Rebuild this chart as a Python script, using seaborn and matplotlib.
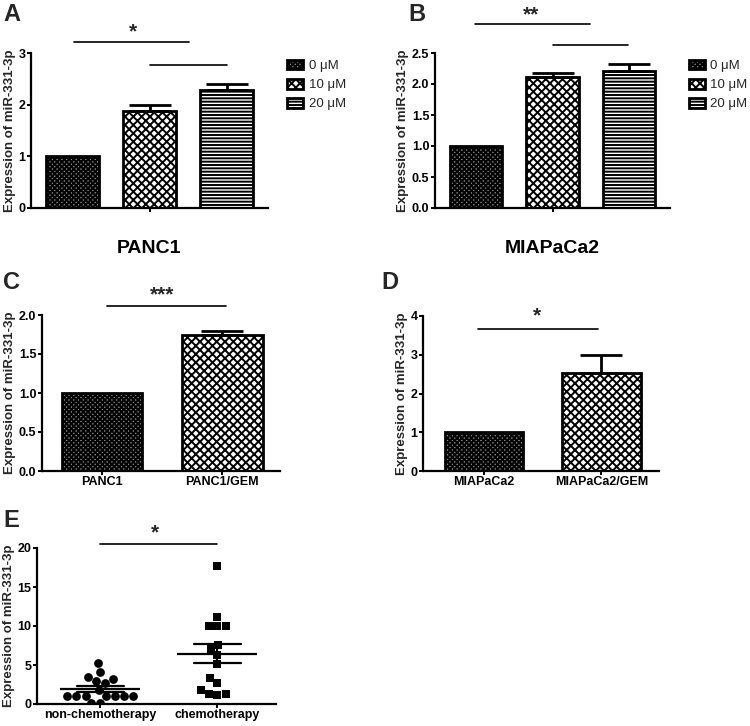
import numpy as np
import pandas as pd
import matplotlib
matplotlib.use("Agg")
import matplotlib.pyplot as plt
import seaborn as sns
from matplotlib.patches import Patch

# ---------------- data ----------------
doses = ["0 μM", "10 μM", "20 μM"]
panc1_dose_mean = [1.0, 1.88, 2.28]
panc1_dose_sem = [0.0, 0.11, 0.12]
mia_dose_mean = [1.0, 2.11, 2.21]
mia_dose_sem = [0.0, 0.06, 0.11]

panc_lines = ["PANC1", "PANC1/GEM"]
panc_lines_mean = [1.0, 1.74]
panc_lines_sem = [0.0, 0.05]

mia_lines = ["MIAPaCa2", "MIAPaCa2/GEM"]
mia_lines_mean = [1.0, 2.52]
mia_lines_sem = [0.0, 0.48]

groups = ["non-chemotherapy", "chemotherapy"]
nonchemo_values = [5.2, 4.1, 3.5, 3.2, 3.0, 2.7, 1.8, 1.0, 1.0, 1.0, 1.0,
                   1.0, 1.0, 1.0, 0.1, 0.1]
chemo_values = [17.7, 11.1, 10.0, 10.0, 10.0, 7.6, 7.0, 6.3, 5.1, 3.3, 2.7,
                1.3, 1.2, 1.3, 1.8]

ylabel = "Expression of miR-331-3p"

# ---------------- style ----------------
sns.set_theme(style="ticks")
plt.rcParams["font.family"] = ["Liberation Sans", "DejaVu Sans"]
plt.rcParams["font.weight"] = "bold"
plt.rcParams["axes.labelweight"] = "bold"
plt.rcParams["hatch.linewidth"] = 1.4

W, H = 750, 726
fig = plt.figure(figsize=(W / 100, H / 100), dpi=100)


def add_ax(l, r, t, b):
    return fig.add_axes([l / W, 1 - b / H, (r - l) / W, (b - t) / H])


hatches = ["xxxxxxx", "xxxx", "-----"]
faces = ["#8c8c8c", "white", "white"]


def style_axes(ax, ylim, yticks, yfmt):
    sns.despine(ax=ax)
    for s in ["left", "bottom"]:
        ax.spines[s].set_linewidth(1.6)
        ax.spines[s].set_color("black")
    ax.set_ylim(*ylim)
    ax.set_yticks(yticks)
    ax.set_yticklabels([yfmt.format(v) for v in yticks])
    ax.tick_params(axis="y", length=3, width=1.4, pad=1, labelsize=9,
                   colors="black")
    ax.set_ylabel(ylabel, fontsize=9.5, fontweight="bold", labelpad=2)
    ax.set_xlabel("")


def style_bars(ax, styles):
    for p, (h, fc) in zip(ax.patches, styles):
        p.set_hatch(h)
        p.set_facecolor(fc)
        p.set_edgecolor("black")
        p.set_linewidth(2)


def add_err(ax, sems):
    for p, s in zip(ax.patches, sems):
        if s > 0:
            xc = p.get_x() + p.get_width() / 2
            top = p.get_height()
            ax.errorbar([xc], [top], yerr=[[0], [s]], fmt="none",
                        ecolor="black", elinewidth=2, capsize=15,
                        capthick=2, zorder=1)


def sig_line(ax, x0, x1, y):
    ax.plot([x0, x1], [y, y], color="black", lw=1.2, clip_on=False)


def star(ax, x, y, s):
    ax.text(x, y, s, ha="center", va="center", fontsize=15,
            fontweight="bold", clip_on=False)


def dose_panel(ax, cell, means, sems, ylim, yticks, yfmt):
    df = pd.DataFrame({"cell": [cell] * 3, "dose": doses, "value": means})
    sns.barplot(data=df, x="cell", y="value", hue="dose", hue_order=doses,
                palette=["white"] * 3, gap=0.31, width=0.8, legend=False,
                errorbar=None, ax=ax)
    style_bars(ax, list(zip(hatches, faces)))
    add_err(ax, sems)
    style_axes(ax, ylim, yticks, yfmt)
    ax.set_xlim(-0.41, 0.41)
    ax.tick_params(axis="x", length=3, width=1.4, pad=20, labelsize=14,
                   colors="black")
    handles = [Patch(facecolor=fc, edgecolor="black", hatch=h, linewidth=2,
                     label=d) for d, h, fc in zip(doses, hatches, faces)]
    ax.legend(handles=handles, loc="upper left",
              bbox_to_anchor=(1.06, 0.99), frameon=False,
              handlelength=1.15, handleheight=0.75, handletextpad=0.45,
              labelspacing=0.5, borderaxespad=0,
              prop={"size": 9.5, "weight": "normal"})


def pair_panel(ax, cells, means, sems, ylim, yticks, yfmt, xlim):
    df = pd.DataFrame({"cell": cells, "value": means})
    sns.barplot(data=df, x="cell", y="value", hue="cell",
                palette=["white"] * 2, width=0.67, legend=False,
                errorbar=None, ax=ax)
    style_bars(ax, [(hatches[0], faces[0]), (hatches[1], faces[1])])
    add_err(ax, sems)
    style_axes(ax, ylim, yticks, yfmt)
    ax.set_xlim(*xlim)
    ax.tick_params(axis="x", length=3, width=1.4, pad=0.5, labelsize=9,
                   colors="black")


# Panel A
axA = add_ax(31, 268, 53, 208)
dose_panel(axA, "PANC1", panc1_dose_mean, panc1_dose_sem, (0, 3),
           [0, 1, 2, 3], "{:.0f}")
sig_line(axA, -0.262, 0.135, 3.21)
sig_line(axA, 0.0, 0.269, 2.77)
star(axA, -0.056, 3.40, "*")

# Panel B
axB = add_ax(435, 670, 53, 208)
dose_panel(axB, "MIAPaCa2", mia_dose_mean, mia_dose_sem, (0, 2.5),
           [0, 0.5, 1.0, 1.5, 2.0, 2.5], "{:.1f}")
sig_line(axB, -0.27, 0.13, 2.97)
sig_line(axB, 0.0, 0.264, 2.63)
star(axB, -0.075, 3.12, "**")

# Panel C
axC = add_ax(42, 280, 315, 471)
pair_panel(axC, panc_lines, panc_lines_mean, panc_lines_sem, (0, 2),
           [0, 0.5, 1.0, 1.5, 2.0], "{:.1f}", (-0.5, 1.48))
sig_line(axC, 0.04, 1.03, 2.12)
star(axC, 0.5, 2.26, "***")

# Panel D
axD = add_ax(423, 659, 316, 471)
pair_panel(axD, mia_lines, mia_lines_mean, mia_lines_sem, (0, 4),
           [0, 1, 2, 3, 4], "{:.0f}", (-0.52, 1.49))
sig_line(axD, -0.055, 0.97, 3.66)
star(axD, 0.45, 4.0, "*")

# Panel E
axE = add_ax(37, 276, 548, 704)
dfE = pd.DataFrame({
    "group": [groups[0]] * len(nonchemo_values) + [groups[1]] * len(chemo_values),
    "value": nonchemo_values + chemo_values,
})
sns.swarmplot(data=dfE[dfE.group == groups[0]], x="group", y="value",
              order=groups, marker="o", color="black", size=6.3, ax=axE)
sns.swarmplot(data=dfE[dfE.group == groups[1]], x="group", y="value",
              order=groups, marker="s", color="black", size=6, ax=axE)
sns.pointplot(data=dfE, x="group", y="value", order=groups,
              estimator="mean", errorbar="se", capsize=0.4,
              color="black", marker="_", markersize=58,
              markeredgewidth=1.6, linestyle="none",
              err_kws={"linewidth": 1.6}, ax=axE)
style_axes(axE, (0, 20), [0, 5, 10, 15, 20], "{:.0f}")
axE.set_xlim(-0.54, 1.5)
axE.tick_params(axis="x", length=3, width=1.4, pad=0.5, labelsize=9,
                colors="black")
sig_line(axE, 0.0, 1.0, 20.5)
star(axE, 0.47, 22.0, "*")

# Panel letters
for lbl, x, y in [("A", 3, 3), ("B", 408, 3), ("C", 3, 271),
                  ("D", 381, 271), ("E", 3, 509)]:
    fig.text(x / W, 1 - y / H, lbl, fontsize=17, fontweight="bold",
             ha="left", va="top")

fig.savefig("out.png", dpi=100)
